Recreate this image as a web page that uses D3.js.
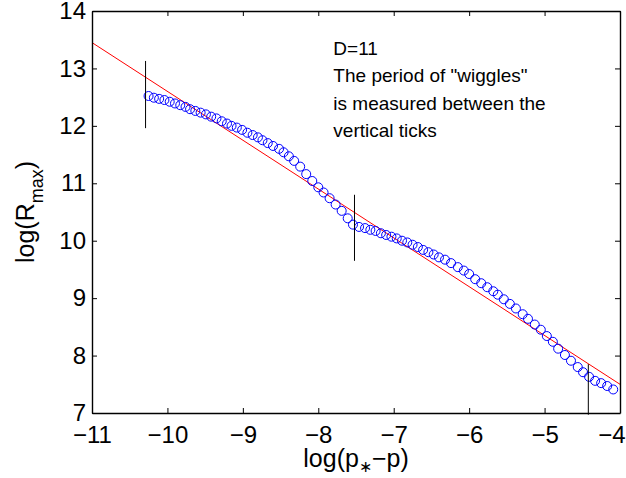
<html>
<head>
<script src="https://d3js.org/d3.v7.min.js"></script>
<style>
  body { margin: 0; background: white; }
  text { font-family: "Liberation Sans", Arial, sans-serif; }
</style>
</head>
<body>
<div id="chartDiv1"></div>
<script>

// log(p* - p) for each point
const logP = [-10.25,-10.18,-10.11,-10.04,-9.97,-9.90,-9.83,-9.76,-9.70,-9.63,
  -9.56,-9.49,-9.42,-9.35,-9.28,-9.21,-9.15,-9.08,-9.01,-8.94,
  -8.87,-8.80,-8.74,-8.67,-8.60,-8.52,-8.46,-8.39,-8.32,-8.24,
  -8.16,-8.08,-8.00,-7.93,-7.85,-7.77,-7.69,-7.61,-7.54,-7.46,
  -7.38,-7.31,-7.24,-7.17,-7.10,-7.03,-6.96,-6.89,-6.82,-6.75,
  -6.68,-6.61,-6.54,-6.47,-6.40,-6.32,-6.24,-6.15,-6.07,-6.00,
  -5.92,-5.84,-5.76,-5.68,-5.62,-5.54,-5.46,-5.38,-5.29,-5.22,
  -5.13,-5.05,-4.97,-4.89,-4.82,-4.73,-4.65,-4.56,-4.49,-4.41,
  -4.33,-4.25,-4.17,-4.09];

// log(Rmax) for each point
const logR = [12.52,12.49,12.47,12.45,12.42,12.39,12.36,12.33,12.29,12.26,
  12.23,12.20,12.16,12.13,12.08,12.04,12.00,11.97,11.93,11.88,
  11.84,11.80,11.75,11.70,11.65,11.60,11.54,11.47,11.39,11.29,
  11.16,11.04,10.93,10.84,10.74,10.63,10.52,10.39,10.28,10.24,
  10.22,10.19,10.17,10.13,10.10,10.07,10.04,10.00,9.97,9.93,
  9.89,9.84,9.80,9.76,9.71,9.67,9.61,9.54,9.48,9.42,
  9.33,9.26,9.19,9.12,9.06,8.98,8.90,8.82,8.72,8.64,
  8.54,8.45,8.34,8.24,8.12,8.01,7.91,7.80,7.71,7.63,
  7.56,7.52,7.47,7.41];

// straight-line fit, end points
const fitX = [-11, -4];
const fitY = [13.45, 7.50];

// vertical ticks marking the wiggle period
const markX = [-10.29, -7.52, -4.42];
const markTop = [13.13, 10.80, 7.85];
const markBottom = [11.96, 9.65, 6.97];

const xTicks = [-11, -10, -9, -8, -7, -6, -5, -4];
const yTicks = [7, 8, 9, 10, 11, 12, 13, 14];

const note = ["D=11", "The period of \"wiggles\"", "is measured between the", "vertical ticks"];

const margin = { top: 11, right: 6, bottom: 65, left: 92 },
  width = 626 - margin.left - margin.right,
  height = 478 - margin.top - margin.bottom;

const svg = d3.select("#chartDiv1")
  .append("svg")
  .attr("width", 626)
  .attr("height", 478)
  .append("g")
  .attr("transform", "translate(" + margin.left + "," + margin.top + ")");

const x = d3.scaleLinear().domain([-11, -4]).range([0, width]);
const y = d3.scaleLinear().domain([7, 14]).range([height, 0]);

const fmt = d => (d < 0 ? "\u2212" + Math.abs(d) : d);

// clip for the fit line
svg.append("clipPath").attr("id", "plotClip")
  .append("rect").attr("width", width).attr("height", height);

// fit line
svg.append("line")
  .attr("clip-path", "url(#plotClip)")
  .attr("x1", x(fitX[0])).attr("y1", y(fitY[0]))
  .attr("x2", x(fitX[1])).attr("y2", y(fitY[1]))
  .attr("stroke", "#ff0000")
  .attr("stroke-width", 1);

// data circles
svg.selectAll(".pt")
  .data(logP.map((d, i) => [d, logR[i]]))
  .enter()
  .append("circle")
  .attr("class", "pt")
  .attr("cx", d => x(d[0]))
  .attr("cy", d => y(d[1]))
  .attr("r", 4.5)
  .attr("fill", "none")
  .attr("stroke", "#0000ff")
  .attr("stroke-width", 1);

// period marks
svg.selectAll(".mark")
  .data(markX)
  .enter()
  .append("line")
  .attr("class", "mark")
  .attr("x1", d => x(d)).attr("x2", d => x(d))
  .attr("y1", (d, i) => y(markTop[i]))
  .attr("y2", (d, i) => y(markBottom[i]))
  .attr("stroke", "#000")
  .attr("stroke-width", 1);

// axes, ticks point inward on all four sides
function styleAxis(g) {
  g.select(".domain").attr("stroke", "#000").attr("stroke-width", 1.4);
  g.selectAll(".tick line").attr("stroke", "#000").attr("stroke-width", 1);
  g.selectAll(".tick text").attr("font-size", "24px").attr("fill", "#000")
    .attr("font-family", "Liberation Sans, Arial, sans-serif");
}

const xAxis = svg.append("g")
  .attr("transform", "translate(0," + height + ")")
  .call(d3.axisBottom(x).tickValues(xTicks).tickSizeInner(-5).tickSizeOuter(0).tickPadding(13).tickFormat(fmt))
  .call(styleAxis);
// last label is pushed in so it stays inside the picture
xAxis.selectAll(".tick text").filter(d => d === -4)
  .attr("text-anchor", "end").attr("x", 5);

svg.append("g")
  .call(d3.axisTop(x).tickValues(xTicks).tickSizeInner(-5).tickSizeOuter(0).tickFormat(""))
  .call(styleAxis);

svg.append("g")
  .call(d3.axisLeft(y).tickValues(yTicks).tickSizeInner(-5).tickSizeOuter(0).tickPadding(6).tickFormat(fmt))
  .call(styleAxis);

svg.append("g")
  .attr("transform", "translate(" + width + ",0)")
  .call(d3.axisRight(y).tickValues(yTicks).tickSizeInner(-5).tickSizeOuter(0).tickFormat(""))
  .call(styleAxis);

// axis labels
const xl = svg.append("text")
  .attr("x", width / 2)
  .attr("y", height + 54)
  .attr("text-anchor", "middle")
  .attr("font-size", "25px");
xl.append("tspan").text("log(p");
xl.append("tspan").attr("font-size", "16px").attr("dy", 5).text("\u2217");
xl.append("tspan").attr("dy", -5).text("\u2212p)");

const yl = svg.append("text")
  .attr("transform", "translate(" + (34 - margin.left) + "," + (height / 2) + ") rotate(-90)")
  .attr("text-anchor", "middle")
  .attr("font-size", "25px");
yl.append("tspan").text("log(R");
yl.append("tspan").attr("font-size", "18px").attr("dy", 9).text("max");
yl.append("tspan").attr("dy", -9).text(")");

// annotation
const noteX = -7.8, noteY = 13.24;
svg.append("text")
  .attr("x", x(noteX))
  .attr("y", y(noteY))
  .attr("font-size", "19px")
  .selectAll("tspan")
  .data(note)
  .enter()
  .append("tspan")
  .attr("x", x(noteX))
  .attr("dy", (d, i) => i === 0 ? 0 : 27.6)
  .text(d => d);

</script>
</body>
</html>
